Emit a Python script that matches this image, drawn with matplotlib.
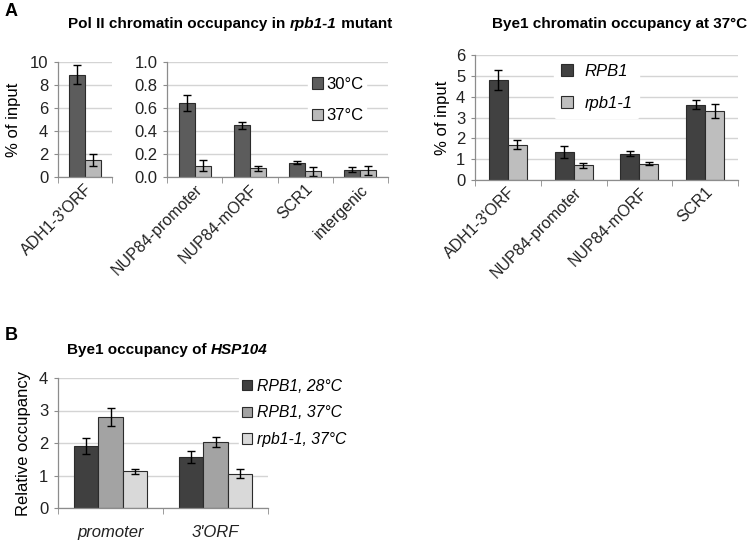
import matplotlib
matplotlib.use("Agg")
import matplotlib.pyplot as plt
import numpy as np
from matplotlib.patches import Patch

plt.rcParams['font.family'] = ['Liberation Sans', 'DejaVu Sans']

# ---- Panel A left (Pol II) ----
polii_cat_big = ["ADH1-3'ORF"]
polii_30_big = [8.9]
polii_30_big_err = [0.8]
polii_37_big = [1.5]
polii_37_big_err = [0.5]

polii_cats = ["NUP84-promoter", "NUP84-mORF", "SCR1", "intergenic"]
polii_30 = [0.64, 0.45, 0.125, 0.065]
polii_30_err = [0.07, 0.03, 0.01, 0.02]
polii_37 = [0.10, 0.075, 0.05, 0.06]
polii_37_err = [0.05, 0.02, 0.04, 0.04]

# ---- Panel A right (Bye1) ----
bye1_cats = ["ADH1-3'ORF", "NUP84-promoter", "NUP84-mORF", "SCR1"]
bye1_RPB1 = [4.8, 1.33, 1.27, 3.62]
bye1_RPB1_err = [0.48, 0.28, 0.13, 0.2]
bye1_rpb11 = [1.7, 0.70, 0.78, 3.32]
bye1_rpb11_err = [0.2, 0.1, 0.08, 0.35]

# ---- Panel B ----
hsp_cats = ["promoter", "3'ORF"]
hsp_labels = ["RPB1, 28°C", "RPB1, 37°C", "rpb1-1, 37°C"]
hsp_vals = [[1.9, 1.57], [2.8, 2.03], [1.13, 1.06]]
hsp_errs = [[0.25, 0.17], [0.27, 0.15], [0.08, 0.14]]

W, H = 751, 544
fig = plt.figure(figsize=(W / 100, H / 100), dpi=100)

def ax_px(x0, x1, y0, y1):
    return fig.add_axes([x0 / W, (H - y1) / H, (x1 - x0) / W, (y1 - y0) / H])

GRID = '#d4d4d4'
SPINE = '#8c8c8c'
EDGE = '#2b2b2b'
ekw = dict(ecolor='black', elinewidth=1.0, capsize=3, capthick=1.0)

def style(ax, n, ymax, yticks, fmt):
    for s in ['top', 'right']:
        ax.spines[s].set_visible(False)
    for s in ['left', 'bottom']:
        ax.spines[s].set_color(SPINE)
        ax.spines[s].set_linewidth(0.9)
    ax.set_xlim(-0.5, n - 0.5)
    ax.set_ylim(0, ymax)
    ax.set_yticks(yticks)
    ax.set_yticklabels([fmt(v) for v in yticks], fontsize=12, color='#222222')
    ax.yaxis.grid(True, color=GRID, linewidth=1.0)
    ax.set_axisbelow(True)
    ax.tick_params(axis='y', length=3, color=SPINE, pad=4)
    ax.set_xticks(np.arange(n + 1) - 0.5, minor=True)
    ax.tick_params(axis='x', which='minor', length=4, color=SPINE)
    ax.tick_params(axis='x', which='major', length=0)

def catlabels(ax, labels, fs=11.5):
    ax.set_xticks(np.arange(len(labels)))
    ax.set_xticklabels(labels, rotation=45, ha='right', rotation_mode='anchor', fontsize=fs, color='#222222')

def white_legend(leg):
    f = leg.get_frame()
    f.set_facecolor('white'); f.set_edgecolor('white'); f.set_alpha(1)

C30 = '#5c5c5c'
C37 = '#b9b9b9'
bw = 0.29

# Left small axis
ax1 = ax_px(58, 112, 62, 177)
x = np.arange(len(polii_cat_big))
ax1.bar(x - bw / 2, polii_30_big, bw, yerr=polii_30_big_err, color=C30, edgecolor=EDGE, linewidth=0.8, error_kw=ekw)
ax1.bar(x + bw / 2, polii_37_big, bw, yerr=polii_37_big_err, color=C37, edgecolor=EDGE, linewidth=0.8, error_kw=ekw)
style(ax1, 1, 10, [0, 2, 4, 6, 8, 10], lambda v: f"{v:d}")
catlabels(ax1, polii_cat_big)
ax1.set_ylabel("% of input", fontsize=12, labelpad=6)

# Middle axis
ax2 = ax_px(167, 388, 62, 177)
x = np.arange(len(polii_cats))
ax2.bar(x - bw / 2, polii_30, bw, yerr=polii_30_err, color=C30, edgecolor=EDGE, linewidth=0.8, error_kw=ekw)
ax2.bar(x + bw / 2, polii_37, bw, yerr=polii_37_err, color=C37, edgecolor=EDGE, linewidth=0.8, error_kw=ekw)
style(ax2, 4, 1.0, [0.0, 0.2, 0.4, 0.6, 0.8, 1.0], lambda v: f"{v:.1f}")
catlabels(ax2, polii_cats)
leg = ax2.legend(handles=[Patch(facecolor=C30, edgecolor=EDGE, linewidth=0.8, label="30°C"),
                          Patch(facecolor=C37, edgecolor=EDGE, linewidth=0.8, label="37°C")],
                 loc='upper left', bbox_to_anchor=(0.64, 0.90), frameon=True, fontsize=12,
                 handlelength=0.65, handleheight=0.65, handletextpad=0.2, labelspacing=1.0,
                 borderpad=0.2, borderaxespad=0)
white_legend(leg)

def mixed_title(xc, yc, parts, fs):
    renderer = fig.canvas.get_renderer()
    texts = []
    for s, st in parts:
        tt = fig.text(0, 1 - yc / H, s, fontsize=fs, fontweight='bold', style=st, va='center', ha='left')
        texts.append(tt)
    widths = [tt.get_window_extent(renderer).width for tt in texts]
    total = sum(widths)
    xs = xc - total / 2
    for tt, w in zip(texts, widths):
        tt.set_x(xs / W)
        xs += w

mixed_title(230, 24, [("Pol II chromatin occupancy in ", 'normal'), ("rpb1-1", 'italic'), (" mutant", 'normal')], 11)
mixed_title(620, 24, [("Bye1 chromatin occupancy at 37°C", 'normal')], 11)
mixed_title(167, 350, [("Bye1 occupancy of ", 'normal'), ("HSP104", 'italic')], 11)

fig.text(5 / W, 1 - 12 / H, "A", fontsize=13, fontweight='bold', va='center', ha='left')
fig.text(5 / W, 1 - 335 / H, "B", fontsize=13, fontweight='bold', va='center', ha='left')

# Right panel A
CR1 = '#414141'
CR2 = '#bebebe'
ax3 = ax_px(475, 738, 55, 180)
x = np.arange(len(bye1_cats))
ax3.bar(x - bw / 2, bye1_RPB1, bw, yerr=bye1_RPB1_err, color=CR1, edgecolor=EDGE, linewidth=0.8, error_kw=ekw)
ax3.bar(x + bw / 2, bye1_rpb11, bw, yerr=bye1_rpb11_err, color=CR2, edgecolor=EDGE, linewidth=0.8, error_kw=ekw)
style(ax3, 4, 6, [0, 1, 2, 3, 4, 5, 6], lambda v: f"{v:d}")
catlabels(ax3, bye1_cats)
ax3.set_ylabel("% of input", fontsize=12, labelpad=4)
leg = ax3.legend(handles=[Patch(facecolor=CR1, edgecolor=EDGE, linewidth=0.8, label="RPB1"),
                          Patch(facecolor=CR2, edgecolor=EDGE, linewidth=0.8, label="rpb1-1")],
                 loc='upper left', bbox_to_anchor=(0.30, 0.98), frameon=True,
                 prop={'size': 12, 'style': 'italic'},
                 handlelength=0.75, handleheight=0.75, handletextpad=0.7, labelspacing=1.0,
                 borderpad=0.4, borderaxespad=0)
white_legend(leg)

# Panel B
CB = ['#404040', '#a3a3a3', '#d9d9d9']
bwb = 0.23
ax4 = ax_px(58, 268, 378, 508)
x = np.arange(len(hsp_cats))
for i in range(3):
    ax4.bar(x + (i - 1) * bwb, hsp_vals[i], bwb, yerr=hsp_errs[i], color=CB[i], edgecolor=EDGE,
            linewidth=0.8, error_kw=ekw, label=hsp_labels[i])
style(ax4, 2, 4, [0, 1, 2, 3, 4], lambda v: f"{v:d}")
ax4.set_xticks(x)
ax4.set_xticklabels(hsp_cats, fontsize=12, style='italic', color='#222222')
ax4.tick_params(axis='x', which='major', pad=12)
ax4.set_ylabel("Relative occupancy", fontsize=12, labelpad=6)
leg = ax4.legend(loc='upper left', bbox_to_anchor=(0.86, 1.02), frameon=True,
                 prop={'size': 11.3, 'style': 'italic'},
                 handlelength=0.65, handleheight=0.65, handletextpad=0.3, labelspacing=0.75,
                 borderpad=0.2, borderaxespad=0)
white_legend(leg)

fig.savefig("out.png", dpi=100, facecolor='white')
